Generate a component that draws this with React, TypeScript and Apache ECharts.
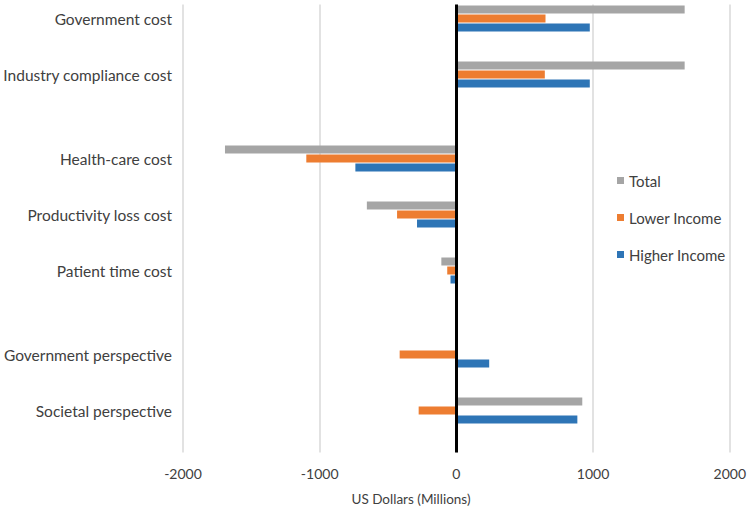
import React, { useEffect, useRef } from "react";
import * as echarts from "echarts";

// Category slots; empty strings are spacer rows between groups
const categories = [
  "Government cost", "", "Industry compliance cost", "", "",
  "Health-care cost", "", "Productivity loss cost", "", "Patient time cost",
  "", "", "Government perspective", "", "Societal perspective", "",
];
const totalValues = [1670, null, 1670, null, null, -1693, null, -655, null, -110, null, null, null, null, 921, null];
const lowerIncomeValues = [652, null, 647, null, null, -1098, null, -434, null, -67, null, null, -415, null, -276, null];
const higherIncomeValues = [976, null, 976, null, null, -739, null, -288, null, -43, null, null, 240, null, 885, null];
const seriesNames = ["Total", "Lower Income", "Higher Income"];
const xTicks = { min: -2000, max: 2000, interval: 1000 };
const axisTitle = "US Dollars (Millions)";

const FONT = "Lato, 'Open Sans', sans-serif";

export default function App() {
  const ref = useRef<HTMLDivElement>(null);
  useEffect(() => {
    if (!ref.current) return;
    const chart = echarts.init(ref.current, undefined, { renderer: "svg" });
    const colors = ["#A5A5A5", "#ED7D31", "#2E75B6"];
    const values = [totalValues, lowerIncomeValues, higherIncomeValues];
    chart.setOption({
      animation: false,
      color: colors,
      textStyle: { fontFamily: FONT },
      grid: { left: 178, right: 15, top: 4.5, height: 448, containLabel: false },
      legend: {
        orient: "vertical",
        left: 612,
        top: 168,
        itemWidth: 7,
        itemHeight: 7,
        itemGap: 22,
        icon: "rect",
        data: seriesNames,
        textStyle: { fontFamily: FONT, fontSize: 15, color: "#404040" },
      },
      xAxis: {
        type: "value",
        min: xTicks.min,
        max: xTicks.max,
        interval: xTicks.interval,
        axisLine: { show: false },
        axisTick: { show: false },
        axisLabel: {
          fontFamily: FONT,
          fontSize: 14,
          color: "#404040",
          margin: 14,
          formatter: (v: number) => String(v),
        },
        splitLine: { show: true, lineStyle: { color: "#D9D9D9", width: 1.5 } },
      },
      yAxis: {
        type: "category",
        inverse: true,
        data: categories,
        axisLine: { show: false },
        axisTick: { show: false },
        axisLabel: { interval: 0, fontFamily: FONT, fontSize: 15.5, color: "#404040", margin: 11 },
        splitLine: { show: false },
      },
      graphic: [
        {
          type: "text",
          x: 411,
          y: 499,
          style: {
            text: axisTitle,
            fontFamily: FONT,
            fontSize: 13.5,
            fill: "#404040",
            align: "center",
            verticalAlign: "middle",
          },
        },
      ],
      series: seriesNames.map((name, i) => ({
        name,
        type: "bar",
        data: values[i],
        barWidth: 8,
        barGap: "12.5%",
        itemStyle: { color: colors[i] },
        ...(i === 0
          ? {
              markLine: {
                silent: true,
                symbol: "none",
                label: { show: false },
                lineStyle: { color: "#000000", width: 3, type: "solid" },
                data: [{ xAxis: 0 }],
              },
            }
          : {}),
      })),
    });
    return () => chart.dispose();
  }, []);
  return (
    <div
      ref={ref}
      style={{ position: "absolute", left: 0, top: 0, width: 749, height: 507 }}
    />
  );
}
